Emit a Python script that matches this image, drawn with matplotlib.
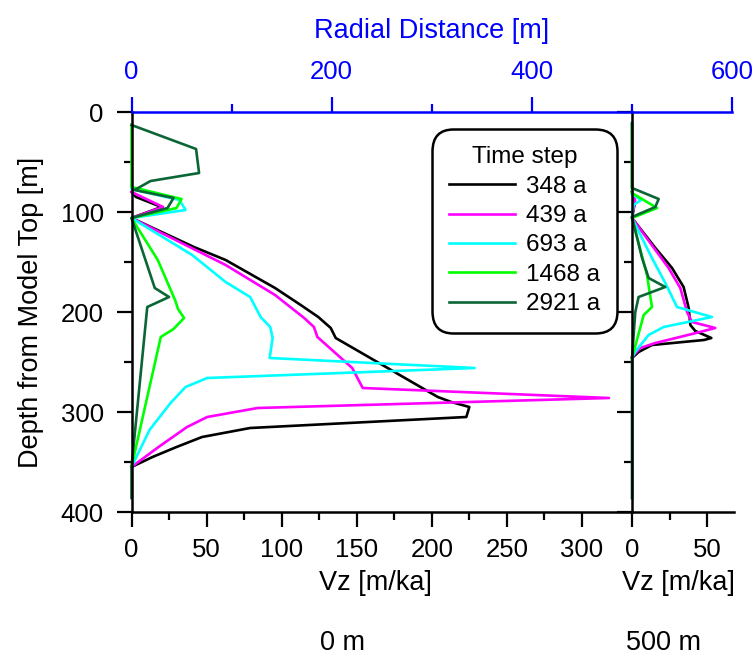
import matplotlib
matplotlib.use('Agg')
from matplotlib import pyplot as plt
from matplotlib.ticker import MultipleLocator, FixedLocator

plt.rcParams['font.family'] = ['Liberation Sans', 'DejaVu Sans']

# Vz profiles [m/ka] against depth [m], two radial positions (0 m and 500 m)
steps = ['348 a', '439 a', '693 a', '1468 a', '2921 a']
colores = ['black', '#ff00ff', '#00ffff', '#00ff00', '#0b6636']

# 0 m
d0_348 = [80, 85, 95, 106, 135, 148, 176, 193, 205, 216, 226, 285, 290, 295, 305, 316, 325, 335, 345, 355]
v0_348 = [0, 3, 20, 0, 41.6, 62.7, 95.6, 112.7, 124.4, 132.7, 136, 204, 213, 225, 223, 79, 47, 30, 14, 0]
d0_439 = [80, 95, 106, 153, 183, 206, 215, 225, 256, 276, 286, 296, 305, 315, 335, 355]
v0_439 = [0, 21, 0, 62.7, 95.6, 115, 121.5, 123.8, 147, 154, 318, 84, 50.4, 37, 18, 0]
d0_693 = [72, 77, 88, 98, 106, 143, 170, 185, 205, 215, 226, 246, 256, 266, 275, 291, 318, 355]
v0_693 = [0, 0, 32, 36, 0, 40.4, 62.7, 79, 86, 92.4, 94, 92, 228.5, 50.4, 36, 26, 12, 0]
d0_1468 = [13, 75, 87, 96, 106, 148, 188, 197, 206, 217, 225, 355]
v0_1468 = [0, 0, 33.3, 30, 0, 17.5, 29, 31, 35, 28, 19.5, 0]
d0_2921 = [13, 37, 61, 69, 78, 86, 96, 106, 176, 185, 195, 355, 386]
v0_2921 = [0, 43, 45, 12.7, 2, 28, 24, 0, 15.5, 25, 10.5, 0, 0]

# 500 m
d5_348 = [80, 90, 106, 136, 156, 175, 196, 213, 219, 226, 228, 233, 240, 246]
v5_348 = [0, 2, 0, 15.6, 26.7, 34.4, 37.8, 38.9, 42.2, 52.9, 48, 13.3, 4.4, 0]
d5_439 = [80, 88, 106, 156, 176, 200, 210, 216, 222, 231, 236, 245]
v5_439 = [0, 2, 0, 24.4, 32.2, 36.7, 40, 55.5, 40, 15.6, 5.5, 0]
d5_693 = [82, 88, 93, 106, 146, 171, 195, 205, 215, 223, 240, 246]
v5_693 = [0, 6, 1, 0, 13.3, 22.2, 30, 53.3, 21.1, 11.1, 2, 0]
d5_1468 = [12, 81, 96, 106, 163, 195, 203, 246]
v5_1468 = [0, 0, 16.7, 0, 10, 13.3, 7.8, 0]
d5_2921 = [11, 76, 87, 95, 105, 146, 166, 175, 185, 200, 246, 386]
v5_2921 = [0, 0, 17.8, 15.5, 0, 6.7, 11.1, 22.2, 4.4, 2.2, 0, 0]

perfiles_0 = [(d0_348, v0_348), (d0_439, v0_439), (d0_693, v0_693), (d0_1468, v0_1468), (d0_2921, v0_2921)]
perfiles_5 = [(d5_348, v5_348), (d5_439, v5_439), (d5_693, v5_693), (d5_1468, v5_1468), (d5_2921, v5_2921)]

W, H = 756, 657
fig = plt.figure(figsize=(W / 100, H / 100), dpi=100)

def caja(x0, x1, y0=112, y1=512):
    return [x0 / W, 1 - y1 / H, (x1 - x0) / W, (y1 - y0) / H]

ax1 = fig.add_axes(caja(131.5, 632))
ax2 = fig.add_axes(caja(632, 734))
axr = fig.add_axes(caja(131.5, 732))

for (d, v), c, s in zip(perfiles_0, colores, steps):
    ax1.plot(v, d, color=c, lw=1.9, label=s, clip_on=False)
for (d, v), c in zip(perfiles_5, colores):
    ax2.plot(v, d, color=c, lw=1.9, clip_on=False)

ax1.set_xlim(0, 500 / 1.5)
ax2.set_xlim(0, 102 / 1.5)
for ax in (ax1, ax2):
    ax.set_ylim(400, 0)
    ax.spines['top'].set_visible(False)
    ax.spines['right'].set_visible(False)
    ax.spines['left'].set_linewidth(1.8)
    ax.spines['bottom'].set_linewidth(1.8)
    ax.yaxis.set_major_locator(MultipleLocator(100))
    ax.yaxis.set_minor_locator(MultipleLocator(50))
    ax.tick_params(which='major', length=11, width=1.6, labelsize=18.5, pad=8)
    ax.tick_params(which='minor', length=6, width=1.6)
    ax.patch.set_visible(False)

ax1.xaxis.set_major_locator(FixedLocator([0, 50, 100, 150, 200, 250, 300]))
ax1.xaxis.set_minor_locator(FixedLocator([25, 75, 125, 175, 225, 275]))
ax2.xaxis.set_major_locator(FixedLocator([0, 50]))
ax2.xaxis.set_minor_locator(FixedLocator([25]))
ax2.tick_params(axis='y', labelleft=False)
ax1.tick_params(axis='y', pad=9)

ax1.set_ylabel('Depth from Model Top [m]', fontsize=19.5, labelpad=12)
ax1.set_xlabel('Vz [m/ka]', fontsize=19.5)
ax2.set_xlabel('Vz [m/ka]', fontsize=19.5)
ax1.xaxis.set_label_coords(0.488, -0.145)
ax2.xaxis.set_label_coords(0.46, -0.145)

# eje superior: distancia radial
axr.patch.set_visible(False)
for k in ('left', 'right', 'bottom'):
    axr.spines[k].set_visible(False)
axr.spines['top'].set_color('blue')
axr.spines['top'].set_linewidth(1.8)
axr.set_xlim(0, 600)
axr.set_yticks([])
axr.xaxis.set_ticks_position('top')
axr.xaxis.set_label_position('top')
axr.xaxis.set_major_locator(MultipleLocator(200))
axr.xaxis.set_minor_locator(MultipleLocator(100))
axr.tick_params(which='major', length=11, width=1.6, color='blue', labelcolor='blue', labelsize=18.5, pad=9)
axr.tick_params(which='minor', length=6, width=1.6, color='blue')
axr.set_xlabel('Radial Distance [m]', color='blue', fontsize=19.5, labelpad=16)

leg = ax1.legend(title='Time step', loc='upper left', bbox_to_anchor=(431.5 / W, 1 - 129 / H),
                 bbox_transform=fig.transFigure, borderaxespad=0, fontsize=17.5, title_fontsize=17.5,
                 handlelength=2.7, handletextpad=0.45, labelspacing=0.3, borderpad=0.72,
                 fancybox=True, framealpha=1, edgecolor='black')
leg.get_frame().set_linewidth(1.8)
leg.get_frame().set_boxstyle('round', pad=0.0, rounding_size=0.9)

fig.text(342 / W, 1 - 643 / H, '0 m', fontsize=19.5, ha='center', va='center')
fig.text(663 / W, 1 - 643 / H, '500 m', fontsize=19.5, ha='center', va='center')

plt.savefig('out.png', dpi=100)
